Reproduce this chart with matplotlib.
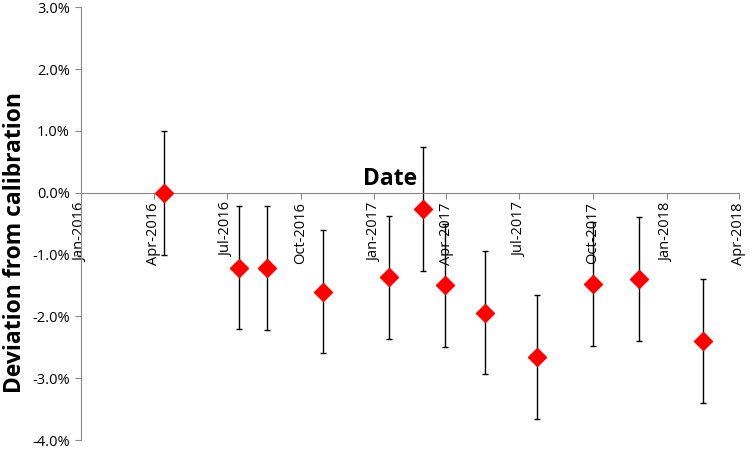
import matplotlib
matplotlib.use("Agg")
import matplotlib.pyplot as plt
import matplotlib.dates as mdates
import matplotlib.ticker as mticker
import numpy as np
import datetime as dt

dates = ["2016-04-14", "2016-07-16", "2016-08-20", "2016-10-29", "2017-01-19",
         "2017-03-03", "2017-03-30", "2017-05-19", "2017-07-23", "2017-10-01",
         "2017-11-27", "2018-02-16"]
deviation = [0.0, -1.21, -1.22, -1.60, -1.37, -0.26, -1.50, -1.94, -2.66, -1.48, -1.40, -2.40]
error = [1.0] * 12
tick_dates = ["2016-01-01", "2016-04-01", "2016-07-01", "2016-10-01", "2017-01-01",
              "2017-04-01", "2017-07-01", "2017-10-01", "2018-01-01", "2018-04-01"]

plt.rcParams['font.family'] = ['Open Sans', 'DejaVu Sans']

x = [dt.datetime.strptime(d, "%Y-%m-%d") for d in dates]
tx = [dt.datetime.strptime(d, "%Y-%m-%d") for d in tick_dates]

fig = plt.figure(figsize=(7.5, 4.49), dpi=100)
ax = fig.add_axes([0.108, 0.02, 0.877, 0.964])

ax.errorbar(x, deviation, yerr=error, fmt='none', ecolor='black', elinewidth=1.0,
            capsize=2.5, capthick=1.0, zorder=2)
ax.plot(x, deviation, linestyle='none', marker='D', markersize=9, color='#ff0000',
        markeredgecolor='#ff0000', zorder=3)

ax.set_xlim(tx[0], tx[-1])
ax.set_ylim(-4.0, 3.0)
ax.yaxis.set_major_locator(mticker.MultipleLocator(1.0))
ax.yaxis.set_major_formatter(mticker.FuncFormatter(lambda v, p: f"{v:.1f}%"))
ax.set_xticks(tx)
ax.xaxis.set_major_formatter(mdates.DateFormatter("%b-%Y"))
ax.tick_params(axis='x', labelsize=10.5, color='#888888', length=4, pad=3, labelrotation=90)
ax.tick_params(axis='y', labelsize=10.5, color='#888888', length=4, pad=4)

for s in ['top', 'right']:
    ax.spines[s].set_visible(False)
ax.spines['left'].set_color('#888888')
ax.spines['bottom'].set_color('#888888')
ax.spines['bottom'].set_position(('data', 0))

ax.set_ylabel("Deviation from calibration", fontsize=16.5, fontweight='bold')
ax.yaxis.set_label_coords(-0.082, 0.457)
ax.text(0.47, 0.575, "Date", transform=ax.transAxes, fontsize=16.5, fontweight='bold',
        ha='center', va='bottom')

fig.savefig("out.png", dpi=100)
